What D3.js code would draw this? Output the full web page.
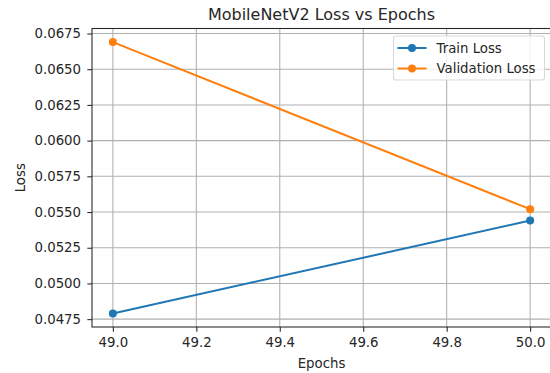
<!DOCTYPE html>
<html>
<head>
<meta charset="utf-8">
<script src="https://cdn.jsdelivr.net/npm/d3@7"></script>
<style>
body { margin: 0; background: #fff; }
text { font-family: "DejaVu Sans", sans-serif; fill: #262626; }
</style>
</head>
<body>
<div id="chart"></div>
<script>
var width = 550, height = 373;
var axLeft = 92, axRight = 551, axTop = 28.5, axBottom = 327;
var fontSize = 13.3; // 10pt at 96 dpi

// data
var epochs = [49, 50];
var trainLoss = [0.0479, 0.0544];
var valLoss = [0.0669, 0.0552];
var xTicks = [49.0, 49.2, 49.4, 49.6, 49.8, 50.0];
var yTicks = [0.0475, 0.0500, 0.0525, 0.0550, 0.0575, 0.0600, 0.0625, 0.0650, 0.0675];
var series = [
	{name: "Train Loss", values: trainLoss, color: "#1f77b4"},
	{name: "Validation Loss", values: valLoss, color: "#ff7f0e"}
];

var svg = d3.select("#chart").append("svg")
	.attr("width", width)
	.attr("height", height);

// matplotlib style 5% margins
var allY = trainLoss.concat(valLoss);
var ymin = d3.min(allY), ymax = d3.max(allY);
var ypad = (ymax - ymin) * 0.05;
var xpad = (epochs[1] - epochs[0]) * 0.05;

var x = d3.scaleLinear().domain([epochs[0] - xpad, epochs[1] + xpad]).range([axLeft, axRight]);
var y = d3.scaleLinear().domain([ymin - ypad, ymax + ypad]).range([axBottom, axTop]);

// grid
svg.append("g").selectAll("line").data(xTicks).enter().append("line")
	.attr("x1", function(d) { return x(d); })
	.attr("x2", function(d) { return x(d); })
	.attr("y1", axTop).attr("y2", axBottom)
	.attr("stroke", "#b0b0b0").attr("stroke-width", 1.07);
svg.append("g").selectAll("line").data(yTicks).enter().append("line")
	.attr("y1", function(d) { return y(d); })
	.attr("y2", function(d) { return y(d); })
	.attr("x1", axLeft).attr("x2", axRight)
	.attr("stroke", "#b0b0b0").attr("stroke-width", 1.07);

// axes
var xAxis = svg.append("g")
	.attr("transform", "translate(0," + axBottom + ")")
	.call(d3.axisBottom(x).tickValues(xTicks).tickFormat(d3.format(".1f")).tickSize(4.67).tickPadding(6.3));
var yAxis = svg.append("g")
	.attr("transform", "translate(" + axLeft + ",0)")
	.call(d3.axisLeft(y).tickValues(yTicks).tickFormat(d3.format(".4f")).tickSize(4.67).tickPadding(6.3));
[xAxis, yAxis].forEach(function(a) {
	a.select(".domain").remove();
	a.selectAll("line").attr("stroke", "#262626").attr("stroke-width", 1.07);
	a.selectAll("text").attr("font-size", fontSize).attr("font-family", "DejaVu Sans").attr("fill", "#262626");
});

// frame
svg.append("rect")
	.attr("x", axLeft).attr("y", axTop)
	.attr("width", axRight - axLeft).attr("height", axBottom - axTop)
	.attr("fill", "none").attr("stroke", "#262626").attr("stroke-width", 1.07);

// lines
var line = d3.line()
	.x(function(d, i) { return x(epochs[i]); })
	.y(function(d) { return y(d); });

series.forEach(function(s) {
	svg.append("path")
		.attr("d", line(s.values))
		.attr("fill", "none")
		.attr("stroke", s.color)
		.attr("stroke-width", 2);
	svg.append("g").selectAll("circle").data(s.values).enter().append("circle")
		.attr("cx", function(d, i) { return x(epochs[i]); })
		.attr("cy", function(d) { return y(d); })
		.attr("r", 4)
		.attr("fill", s.color);
});

// title and labels
svg.append("text")
	.attr("x", (axLeft + axRight) / 2).attr("y", 20)
	.attr("text-anchor", "middle").attr("font-size", 16)
	.text("MobileNetV2 Loss vs Epochs");
svg.append("text")
	.attr("x", (axLeft + axRight) / 2).attr("y", 368)
	.attr("text-anchor", "middle").attr("font-size", fontSize)
	.text("Epochs");
svg.append("text")
	.attr("transform", "translate(25," + (axTop + axBottom) / 2 + ") rotate(-90)")
	.attr("text-anchor", "middle").attr("font-size", fontSize)
	.text("Loss");

// legend
var legend = svg.append("g").attr("transform", "translate(393.5,36)");
legend.append("rect")
	.attr("width", 151).attr("height", 44).attr("rx", 2.5)
	.attr("fill", "#fff").attr("fill-opacity", 0.8)
	.attr("stroke", "#d9d9d9").attr("stroke-width", 1.07);
series.forEach(function(s, i) {
	var ly = 12 + i * 20.5;
	legend.append("line")
		.attr("x1", 4).attr("x2", 33).attr("y1", ly).attr("y2", ly)
		.attr("stroke", s.color).attr("stroke-width", 2);
	legend.append("circle")
		.attr("cx", 18.5).attr("cy", ly).attr("r", 4).attr("fill", s.color);
	legend.append("text")
		.attr("x", 43).attr("y", ly + 4.8).attr("font-size", fontSize)
		.text(s.name);
});
</script>
</body>
</html>
